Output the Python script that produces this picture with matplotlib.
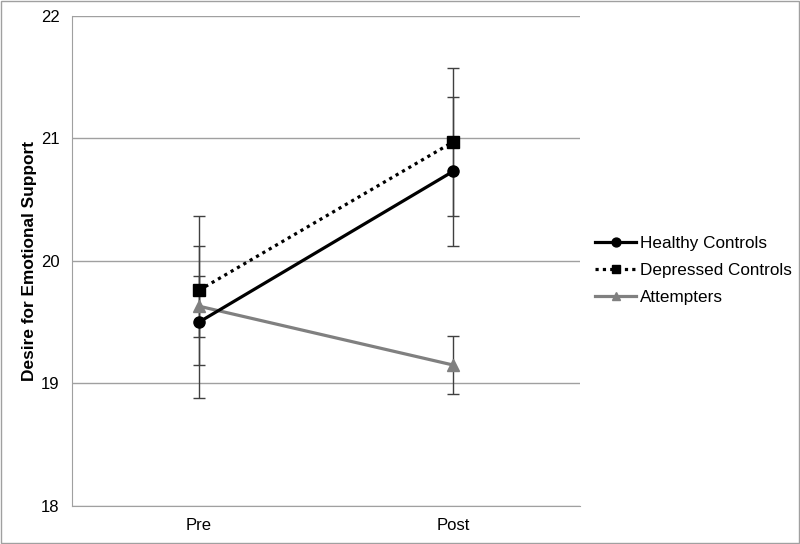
import numpy as np
import matplotlib.pyplot as plt
from matplotlib.patches import Rectangle

plt.rcParams['font.family'] = ['Liberation Sans', 'DejaVu Sans']

categories = ["Pre", "Post"]
healthy = [19.50, 20.73]
healthy_err = [0.62, 0.61]
depressed = [19.76, 20.97]
depressed_err = [0.61, 0.60]
attempters = [19.63, 19.15]
attempters_err = [0.25, 0.24]

fig = plt.figure(figsize=(8, 5.44), dpi=100)
ax = fig.add_axes([0.09, 0.07, 0.635, 0.901])

x = np.arange(len(categories)) + 0.5

# error bars first, drawn thin and dark grey
for vals, errs in [(healthy, healthy_err), (depressed, depressed_err), (attempters, attempters_err)]:
    ax.errorbar(x, vals, yerr=errs, fmt='none', ecolor='#404040', elinewidth=1.0,
                capsize=4, capthick=1.0, zorder=2)

ax.plot(x, healthy, color='black', lw=2.3, marker='o', ms=8, label='Healthy Controls', zorder=4)
ax.plot(x, depressed, color='black', lw=2.3, ls=(0, (1, 1.3)), marker='s', ms=8,
        label='Depressed Controls', zorder=4)
ax.plot(x, attempters, color='#808080', lw=2.3, marker='^', ms=8, label='Attempters', zorder=3)

ax.set_xlim(0, 2)
ax.set_ylim(18, 22)
ax.set_yticks([18, 19, 20, 21, 22])
ax.set_xticks(x)
ax.set_xticklabels(categories)
ax.tick_params(axis='y', length=0, labelsize=12, pad=9)
ax.tick_params(axis='x', length=0, labelsize=12, pad=9)
ax.yaxis.grid(True, color='#a0a0a0', lw=1.0)
ax.set_axisbelow(True)
for s in ['top', 'right']:
    ax.spines[s].set_visible(False)
for s in ['left', 'bottom']:
    ax.spines[s].set_color('#a0a0a0')
ax.set_ylabel("Desire for Emotional Support", fontsize=12.4, fontweight='bold', labelpad=3)

ax.legend(loc='center left', bbox_to_anchor=(1.0, 0.48), frameon=False, fontsize=12.3,
          handlelength=2.4, handletextpad=0.2, labelspacing=0.72, markerscale=0.8)

# thin grey border round the whole chart
fig.patches.append(Rectangle((0.001, 0.001), 0.998, 0.997, transform=fig.transFigure,
                             fill=False, edgecolor='#a0a0a0', lw=1.0))

fig.savefig("out.png", dpi=100)
